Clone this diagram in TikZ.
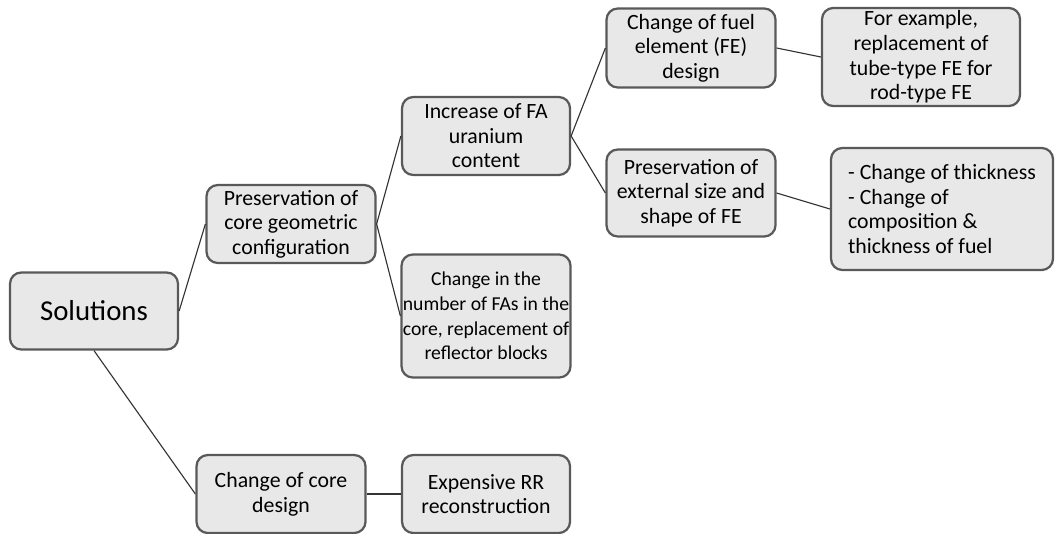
\documentclass[tikz,border=0pt]{standalone}
\usepackage{fontspec}
\setmainfont{Carlito}
\definecolor{boxfill}{HTML}{E8E8E8}
\definecolor{boxline}{HTML}{595959}
\definecolor{linkline}{HTML}{333333}
\tikzset{
  box/.style={draw=boxline, fill=boxfill, line width=1.6pt, rounded corners=8pt,
    align=center, inner sep=2pt, font=\fontsize{15.5}{17.5}\selectfont},
  link/.style={draw=linkline, line width=0.8pt}
}
\begin{document}
\begin{tikzpicture}
  \useasboundingbox (0,0) rectangle (26.425,13.325);
  % root
  \node[box, minimum width=4.2cm, minimum height=1.925cm, font=\fontsize{20.5}{24}\selectfont] (sol) at (2.35,5.55) {Solutions};
  % second level
  \node[box, minimum width=4.225cm, minimum height=1.95cm] (geom) at (7.275,7.725) {Preservation of\\core geometric\\configuration};
  \node[box, minimum width=4.225cm, minimum height=1.95cm] (cored) at (7.025,0.975) {Change of core\\design};
  % third level
  \node[box, minimum width=4.2cm, minimum height=1.95cm] (incr) at (12.15,9.925) {Increase of FA\\uranium\\content};
  \node[box, minimum width=4.2cm, minimum height=3.075cm, inner sep=1pt, font=\fontsize{14}{17.5}\selectfont] (numfa) at (12.15,5.425) {Change in the\\number of FAs in the\\core, replacement of\\reflector blocks};
  \node[box, minimum width=4.2cm, minimum height=1.95cm] (rr) at (12.15,0.975) {Expensive RR\\reconstruction};
  % fourth level
  \node[box, minimum width=4.225cm, minimum height=1.975cm] (fed) at (17.275,12.125) {Change of fuel\\element (FE)\\design};
  \node[box, minimum width=4.225cm, minimum height=2.175cm] (ext) at (17.275,8.5) {Preservation of\\external size and\\shape of FE};
  % fifth level
  \node[box, minimum width=4.95cm, minimum height=2.425cm] (exa) at (23.025,11.9) {For example,\\replacement of\\tube-type FE for\\rod-type FE};
  \node[box, minimum width=5.55cm, minimum height=3.05cm, align=left] (thk) at (23.55,8.1) {- Change of thickness\\- Change of\\composition \&\\thickness of fuel};
  % links
  \draw[link] (sol.east) -- (geom.west);
  \draw[link] (sol.south) -- (cored.west);
  \draw[link] (geom.east) -- (incr.west);
  \draw[link] (geom.east) -- (numfa.west);
  \draw[link] (cored.east) -- (rr.west);
  \draw[link] (incr.east) -- (fed.west);
  \draw[link] (incr.east) -- (ext.west);
  \draw[link] (fed.east) -- (exa.west);
  \draw[link] (ext.east) -- (thk.west);
\end{tikzpicture}
\end{document}
